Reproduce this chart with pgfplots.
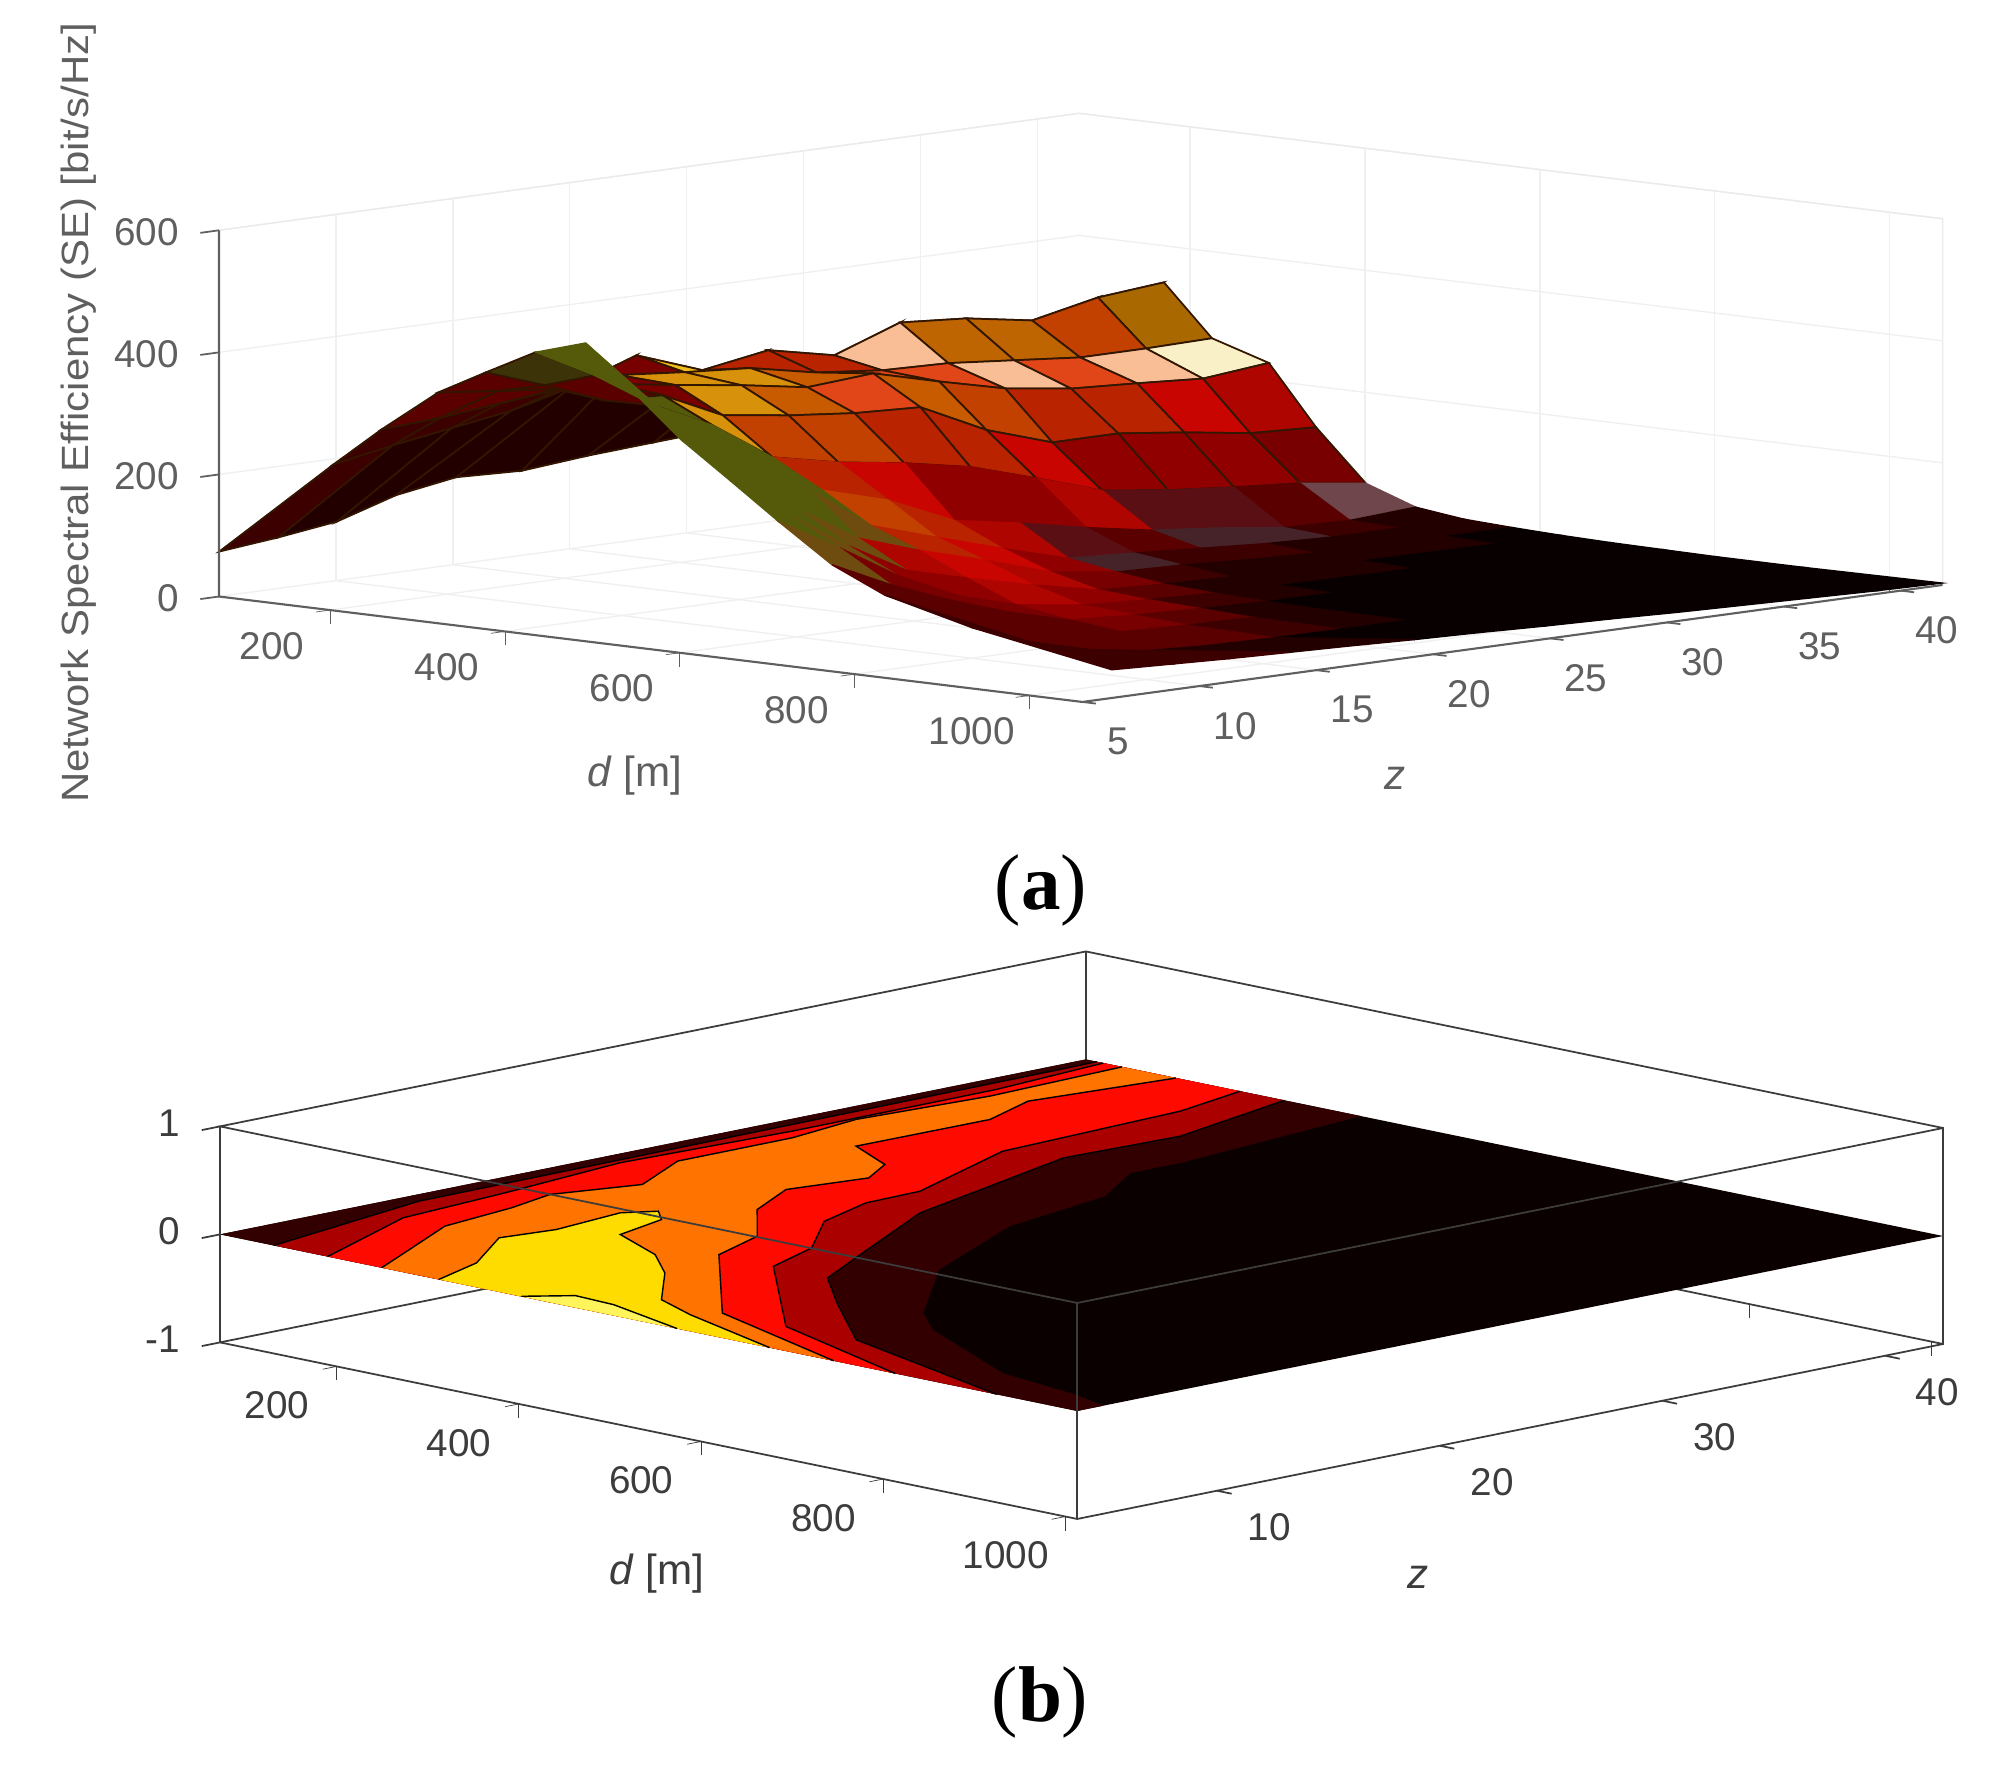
\documentclass[border=0pt]{standalone}
\usepackage{fontspec}
\setmainfont{Liberation Sans}
\newfontfamily\capfont{Liberation Serif}
\usepackage{pgfplots}
\usepackage{pgfplotstable}
\pgfplotsset{compat=1.18}

\definecolor{lvlA}{RGB}{10,0,0}
\definecolor{lvlB}{RGB}{50,0,0}
\definecolor{lvlC}{RGB}{170,0,0}
\definecolor{lvlD}{RGB}{255,10,0}
\definecolor{lvlE}{RGB}{255,115,0}
\definecolor{lvlF}{RGB}{255,220,0}
\definecolor{lvlG}{RGB}{255,245,90}
\definecolor{txta}{RGB}{95,95,95}
\definecolor{txtb}{RGB}{60,60,60}
\definecolor{facet}{RGB}{50,22,0}

% surface of panel (a): d z SE colour index, one line per d
\pgfplotstableread[row sep=\\, header=false]{
39 41.79 170 1 \\ 39 38.97 170 1 \\ 39 36.15 165 1 \\ 39 33.33 160 1 \\ 39 30.51 155 1 \\ 39 27.69 150 1 \\ 39 24.87 143 1 \\ 39 22.05 136 1 \\ 39 19.23 126 1 \\ 39 16.41 130 1 \\ 39 13.84 114 1 \\ 39 11.32 84 1 \\ 39 8.80 71 2 \\ 39 6.28 61 0 \\
170 41.79 340 12 \\ 170 38.97 330 9 \\ 170 36.15 307 11 \\ 170 33.33 325 11 \\ 170 30.51 333 13 \\ 170 27.69 294 8 \\ 170 24.87 317 8 \\ 170 22.05 299 16 \\ 170 19.23 338 4 \\ 170 16.41 300 3 \\ 170 13.84 275 2 \\ 170 11.32 260 2 \\ 170 8.80 245 2 \\ 170 6.28 227 0 \\
225 41.79 258 14 \\ 225 38.97 256 13 \\ 225 36.15 256 21 \\ 225 33.33 266 13 \\ 225 30.51 276 21 \\ 225 27.69 279 21 \\ 225 24.87 290 10 \\ 225 22.05 312 17 \\ 225 19.23 320 17 \\ 225 16.41 330 4 \\ 225 13.84 320 3 \\ 225 11.32 310 3 \\ 225 8.80 300 3 \\ 225 6.28 294 0 \\
290 41.79 229 6 \\ 290 38.97 218 7 \\ 290 36.15 225 8 \\ 290 33.33 231 8 \\ 290 30.51 246 9 \\ 290 27.69 272 10 \\ 290 24.87 300 21 \\ 290 22.05 292 10 \\ 290 19.23 310 17 \\ 290 16.41 325 4 \\ 290 13.84 340 3 \\ 290 11.32 345 3 \\ 290 8.80 355 3 \\ 290 6.28 366 0 \\
344 41.79 133 4 \\ 344 38.97 138 5 \\ 344 36.15 154 5 \\ 344 33.33 167 5 \\ 344 30.51 167 7 \\ 344 27.69 202 8 \\ 344 24.87 254 8 \\ 344 22.05 259 9 \\ 344 19.23 270 9 \\ 344 16.41 285 17 \\ 344 13.84 331 15 \\ 344 11.32 336 3 \\ 344 8.80 374 23 \\ 344 6.28 408 0 \\
401 41.79 51 19 \\ 401 38.97 66 3 \\ 401 36.15 74 20 \\ 401 33.33 84 20 \\ 401 30.51 98 6 \\ 401 27.69 133 5 \\ 401 24.87 166 5 \\ 401 22.05 187 7 \\ 401 19.23 203 8 \\ 401 16.41 226 15 \\ 401 13.84 292 15 \\ 401 11.32 338 15 \\ 401 8.80 400 15 \\ 401 6.28 451 0 \\
458 41.79 22 1 \\ 458 38.97 15 2 \\ 458 36.15 18 18 \\ 458 33.33 32 18 \\ 458 30.51 43 3 \\ 458 27.69 62 20 \\ 458 24.87 84 6 \\ 458 22.05 103 8 \\ 458 19.23 151 9 \\ 458 16.41 182 15 \\ 458 13.84 254 15 \\ 458 11.32 290 15 \\ 458 8.80 377 15 \\ 458 6.28 476 0 \\
513 41.79 12 1 \\ 513 38.97 12 1 \\ 513 36.15 12 1 \\ 513 33.33 16 2 \\ 513 30.51 23 2 \\ 513 27.69 30 18 \\ 513 24.87 36 5 \\ 513 22.05 67 7 \\ 513 19.23 100 8 \\ 513 16.41 134 22 \\ 513 13.84 205 15 \\ 513 11.32 250 15 \\ 513 8.80 318 15 \\ 513 6.28 405 0 \\
568 41.79 8 0 \\ 568 38.97 8 1 \\ 568 36.15 9 1 \\ 568 33.33 10 1 \\ 568 30.51 14 1 \\ 568 27.69 20 2 \\ 568 24.87 23 4 \\ 568 22.05 38 6 \\ 568 19.23 72 7 \\ 568 16.41 103 6 \\ 568 13.84 136 22 \\ 568 11.32 195 15 \\ 568 8.80 260 15 \\ 568 6.28 336 0 \\
623 41.79 5 0 \\ 623 38.97 5 0 \\ 623 36.15 6 0 \\ 623 33.33 7 1 \\ 623 30.51 8 1 \\ 623 27.69 10 1 \\ 623 24.87 13 3 \\ 623 22.05 18 5 \\ 623 19.23 41 6 \\ 623 16.41 67 5 \\ 623 13.84 93 5 \\ 623 11.32 147 22 \\ 623 8.80 210 15 \\ 623 6.28 280 0 \\
680 41.79 3 0 \\ 680 38.97 3 0 \\ 680 36.15 4 0 \\ 680 33.33 4 0 \\ 680 30.51 5 0 \\ 680 27.69 6 1 \\ 680 24.87 8 2 \\ 680 22.05 12 4 \\ 680 19.23 18 5 \\ 680 16.41 33 4 \\ 680 13.84 62 4 \\ 680 11.32 108 4 \\ 680 8.80 167 22 \\ 680 6.28 221 0 \\
740 41.79 2 0 \\ 740 38.97 2 0 \\ 740 36.15 2 0 \\ 740 33.33 3 0 \\ 740 30.51 3 0 \\ 740 27.69 4 0 \\ 740 24.87 5 1 \\ 740 22.05 8 3 \\ 740 19.23 12 4 \\ 740 16.41 19 3 \\ 740 13.84 45 3 \\ 740 11.32 78 3 \\ 740 8.80 116 3 \\ 740 6.28 162 0 \\
800 41.79 1 0 \\ 800 38.97 1 0 \\ 800 36.15 1 0 \\ 800 33.33 2 0 \\ 800 30.51 2 0 \\ 800 27.69 2 0 \\ 800 24.87 3 1 \\ 800 22.05 4 2 \\ 800 19.23 6 3 \\ 800 16.41 10 3 \\ 800 13.84 22 3 \\ 800 11.32 45 3 \\ 800 8.80 78 2 \\ 800 6.28 123 0 \\
900 41.79 1 0 \\ 900 38.97 1 0 \\ 900 36.15 1 0 \\ 900 33.33 1 0 \\ 900 30.51 1 0 \\ 900 27.69 1 0 \\ 900 24.87 2 0 \\ 900 22.05 2 0 \\ 900 19.23 3 1 \\ 900 16.41 5 1 \\ 900 13.84 10 2 \\ 900 11.32 25 2 \\ 900 8.80 50 2 \\ 900 6.28 87 0 \\
1060 41.79 3 0 \\ 1060 38.97 5 0 \\ 1060 36.15 8 0 \\ 1060 33.33 11 0 \\ 1060 30.51 14 0 \\ 1060 27.69 18 0 \\ 1060 24.87 21 0 \\ 1060 22.05 25 0 \\ 1060 19.23 28 0 \\ 1060 16.41 32 0 \\ 1060 13.84 35 0 \\ 1060 11.32 38 0 \\ 1060 8.80 42 0 \\ 1060 6.28 46 0 \\
}\surfdata

% contour bands of panel (b): d z h
\pgfplotstableread{
d z h
72 3.72 0
72 42.6 0
374 42.6 0
401.7 33.35 0
401.6 31.11 0
450.6 27.96 0
479.4 22.5 0
558 16.13 0
666.1 10.99 0
716.2 9.38 0
871.2 6.18 0
969.9 5.47 0
1013 4.89 0
1013 3.72 0
}\bandB
\pgfplotstableread{
d z h
131 3.72 0
90.7 11.9 0
87.2 28.79 0
84.9 40.9 0
84 42.6 0
290 42.6 0
329.9 36.29 0
324.7 31.26 0
394.8 21.95 0
471.3 16.24 0
519.6 12.69 0
592.2 10.15 0
701.5 6.54 0
924.4 3.72 0
}\bandC
\pgfplotstableread{
d z h
190.2 3.72 0
126.9 9.7 0
115.1 14.77 0
96.7 20.68 0
105.2 28.06 0
104.1 37.27 0
91.2 42.6 0
241.4 42.6 0
262.5 39.04 0
273.7 30.61 0
336.4 24.33 0
338.4 21.82 0
365.2 18.86 0
430.1 15.64 0
458.7 12.75 0
627.3 6.42 0
813.2 3.72 0
}\bandD
\pgfplotstableread{
d z h
249.5 3.72 0
215.7 6.35 0
172 9.73 0
158.9 13.26 0
143.9 15.6 0
167.3 18.79 0
123.6 22.16 0
123.2 27.32 0
108.4 30.79 0
118.5 36.39 0
111.7 42.6 0
171 42.6 0
152.8 36.7 0
181.4 33.82 0
180.3 27.85 0
245.4 26.48 0
272.7 24.64 0
258.9 21.49 0
297.2 18.63 0
369.1 15.69 0
397.7 12.8 0
556.7 6.45 0
745.9 3.72 0
}\bandE
\pgfplotstableread{
d z h
312.2 3.72 0
288.1 6.4 0
232.9 9.67 0
241.7 11.88 0
231.5 15.17 0
247.9 16.21 0
272.1 15.36 0
289.9 12.78 0
362.9 11.36 0
417.6 9.56 0
487.7 6.54 0
543.8 5.54 0
675.3 3.72 0
}\bandF
\pgfplotstableread{
d z h
402.3 3.74 0
430 5.04 0
475.1 4.91 0
573.8 3.72 0
}\bandG

\pgfplotsset{
  panel/.style={
    anchor=south west, clip=false,
    axis line style={draw=none},
    tick align=outside, major tick length=0.14cm,
    tick pos=left,
    unbounded coords=jump,
    /pgf/number format/assume math mode=true,
    /pgf/number format/1000 sep={},
    tick label style={font=\fontsize{11}{13}\selectfont},
    xtick={200,400,600,800,1000},
  },
}

\begin{document}
\begin{tikzpicture}
\useasboundingbox (0,0) rectangle (19.94,17.65);

% panel (a)
\begin{axis}[panel, at={(2.19cm,10.63cm)},
  x={(0.00875cm,-0.001074cm)}, y={(0.2338cm,0.0318cm)}, z={(0cm,0.0061cm)},
  xmin=73, xmax=1060.6, ymin=5, ymax=41.79, zmin=0, zmax=600,
  ytick={5,10,...,40}, ztick={0,200,400,600},
  grid=major, grid style={black!6, line width=0.4pt},
  tick style={txta},
  ytick style={draw=none}, ztick style={draw=none},
  tick label style={text=txta},
  xticklabel style={anchor=center, xshift=-0.44cm, yshift=-0.34cm},
  yticklabel style={anchor=center, xshift=0.22cm, yshift=-0.38cm},
  zticklabel style={anchor=east, xshift=-0.14cm},
  colormap={sc}{rgb255=(8,0,0) rgb255=(35,0,0) rgb255=(60,0,0) rgb255=(90,0,0)
    rgb255=(120,0,0) rgb255=(145,0,0) rgb255=(175,5,0) rgb255=(200,5,0)
    rgb255=(185,35,0) rgb255=(195,65,0) rgb255=(200,90,0) rgb255=(190,100,0)
    rgb255=(170,105,0) rgb255=(250,190,150) rgb255=(250,240,200) rgb255=(85,90,10)
    rgb255=(240,190,30) rgb255=(215,145,10) rgb255=(70,35,40) rgb255=(110,70,75)
    rgb255=(90,15,20) rgb255=(225,70,25) rgb255=(110,75,15) rgb255=(60,52,8)},
  colormap access=direct,
]
  \addplot3[black!8, line width=0.4pt] coordinates {(73,5,600) (73,41.79,600) (1060.6,41.79,600) (1060.6,41.79,0)};
  % the far rows show their facet lines, the near rows do not
  \addplot3[surf, shader=flat corner, draw=facet, line width=0.5pt,
    z buffer=none, mesh/rows=6, mesh/cols=14, mesh/check=false, point meta=explicit,
    skip coords between index={84}{210}]
    table[x index=0, y index=1, z index=2, meta index=3] {\surfdata};
  \addplot3[surf, shader=flat corner,
    z buffer=none, mesh/rows=10, mesh/cols=14, mesh/check=false, point meta=explicit,
    skip coords between index={0}{70}]
    table[x index=0, y index=1, z index=2, meta index=3] {\surfdata};
  \addplot3[txta, line width=0.6pt] coordinates {(73,5,600) (73,5,0) (1060.6,5,0) (1060.6,41.79,0)};
  % ticks on the front edges only
  \addplot3[txta, line width=0.5pt] coordinates {
    (1060.6,5,0) (1076,5,0) (nan,nan,nan)
    (1060.6,10,0) (1076,10,0) (nan,nan,nan)
    (1060.6,15,0) (1076,15,0) (nan,nan,nan)
    (1060.6,20,0) (1076,20,0) (nan,nan,nan)
    (1060.6,25,0) (1076,25,0) (nan,nan,nan)
    (1060.6,30,0) (1076,30,0) (nan,nan,nan)
    (1060.6,35,0) (1076,35,0) (nan,nan,nan)
    (1060.6,40,0) (1076,40,0) (nan,nan,nan)
    (73,5,0) (73,4.2,0) (nan,nan,nan)
    (73,5,200) (73,4.2,200) (nan,nan,nan)
    (73,5,400) (73,4.2,400) (nan,nan,nan)
    (73,5,600) (73,4.2,600)};
\end{axis}

% panel (b)
\begin{axis}[panel, at={(2.20cm,2.46cm)},
  x={(0.009107cm,-0.00187cm)}, y={(0.2227cm,0.045cm)}, z={(0cm,1.08cm)},
  xmin=72, xmax=1013, ymin=3.72, ymax=42.6, zmin=-1, zmax=1,
  ytick={10,20,30,40}, ztick={-1,0,1},
  tick style={txtb},
  ytick style={draw=none}, ztick style={draw=none},
  tick label style={text=txtb},
  xticklabel style={anchor=center, xshift=-0.46cm, yshift=-0.36cm},
  yticklabel style={anchor=center, xshift=0.386cm, yshift=-0.34cm},
  zticklabel style={anchor=east, xshift=-0.14cm, yshift=0.06cm},
]
  \addplot3[txtb, line width=0.5pt] coordinates {(72,3.72,-1) (72,42.6,-1) (1013,42.6,-1)};
  \addplot3[txtb, line width=0.5pt] coordinates {(72,42.6,-1) (72,42.6,1)};
  \addplot3[fill=lvlA, draw=none] coordinates {(72,3.72,0) (72,42.6,0) (1013,42.6,0) (1013,3.72,0)};
  \addplot3[fill=lvlB, draw=none] table[x=d, y=z, z=h] {\bandB};
  \addplot3[fill=lvlC, draw=none] table[x=d, y=z, z=h] {\bandC};
  \addplot3[black, line width=0.4pt, skip coords between index={5}{99}] table[x=d, y=z, z=h] {\bandC};
  \addplot3[black, line width=0.4pt, skip coords between index={0}{5}] table[x=d, y=z, z=h] {\bandC};
  \addplot3[fill=lvlD, draw=none] table[x=d, y=z, z=h] {\bandD};
  \addplot3[black, line width=0.4pt, skip coords between index={7}{99}] table[x=d, y=z, z=h] {\bandD};
  \addplot3[black, line width=0.4pt, skip coords between index={0}{7}] table[x=d, y=z, z=h] {\bandD};
  \addplot3[fill=lvlE, draw=none] table[x=d, y=z, z=h] {\bandE};
  \addplot3[black, line width=0.4pt, skip coords between index={11}{99}] table[x=d, y=z, z=h] {\bandE};
  \addplot3[black, line width=0.4pt, skip coords between index={0}{11}] table[x=d, y=z, z=h] {\bandE};
  \addplot3[fill=lvlF, draw=none] table[x=d, y=z, z=h] {\bandF};
  \addplot3[black, line width=0.4pt] table[x=d, y=z, z=h] {\bandF};
  \addplot3[fill=lvlG, draw=none] table[x=d, y=z, z=h] {\bandG};
  \addplot3[black, line width=0.4pt] table[x=d, y=z, z=h] {\bandG};
  % box edges in front of the plane
  \addplot3[txtb, line width=0.5pt] coordinates {(72,3.72,1) (72,3.72,-1) (1013,3.72,-1) (1013,42.6,-1) (1013,42.6,1) (1013,3.72,1) (72,3.72,1) (72,42.6,1) (1013,42.6,1)};
  \addplot3[txtb, line width=0.5pt] coordinates {(1013,3.72,-1) (1013,3.72,1)};
  % ticks on the front edges only
  \addplot3[txtb, line width=0.5pt] coordinates {
    (1013,10,-1) (1029,10,-1) (nan,nan,nan)
    (1013,20,-1) (1029,20,-1) (nan,nan,nan)
    (1013,30,-1) (1029,30,-1) (nan,nan,nan)
    (1013,40,-1) (1029,40,-1) (nan,nan,nan)
    (72,3.72,-1) (72,2.9,-1) (nan,nan,nan)
    (72,3.72,0) (72,2.9,0) (nan,nan,nan)
    (72,3.72,1) (72,2.9,1)};
\end{axis}

% axis titles and captions, in page coordinates
\node[txta, font=\fontsize{10.8}{13}\selectfont, rotate=90] at (0.79,13.52) {\scalebox{1.105}[1]{Network Spectral Efficiency (SE) [bit/s/Hz]}};
\node[txta, font=\fontsize{12}{14}\selectfont] at (6.35,9.89) {\textit{d} [m]};
\node[txta, font=\fontsize{12}{14}\selectfont] at (13.95,9.87) {\textit{z}};
\node[txtb, font=\fontsize{12}{14}\selectfont] at (6.57,1.91) {\textit{d} [m]};
\node[txtb, font=\fontsize{12}{14}\selectfont] at (14.18,1.88) {\textit{z}};
\node[font=\capfont\fontsize{22.5}{26}\selectfont] at (10.41,8.74) {(\textbf{a})};
\node[font=\capfont\fontsize{22.5}{26}\selectfont] at (10.40,0.62) {(\textbf{b})};
\end{tikzpicture}
\end{document}
